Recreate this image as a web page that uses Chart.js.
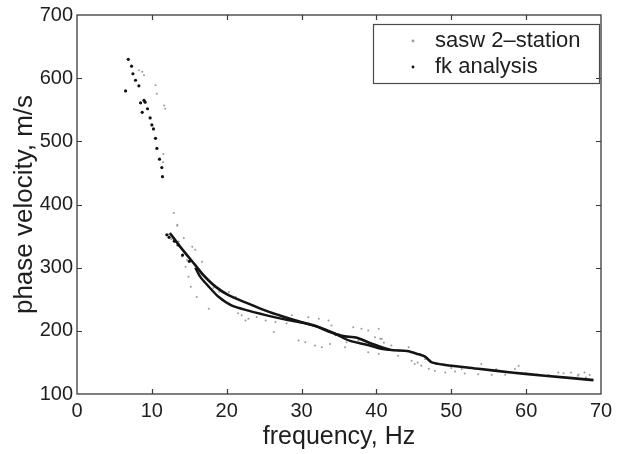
<!DOCTYPE html>
<html>
<head>
<meta charset="utf-8">
<script src="https://cdn.jsdelivr.net/npm/chart.js@4.4.1/dist/chart.umd.min.js"></script>
<style>
html,body{margin:0;padding:0;background:#ffffff;}
canvas{display:block;}
</style>
</head>
<body>
<canvas id="c" width="623" height="454"></canvas>
<script>
// ---------- data ----------
const xTickValues = [0, 10, 20, 30, 40, 50, 60, 70];
const yTickValues = [100, 200, 300, 400, 500, 600, 700];

// sasw 2-station: scattered grey points
const saswFreq = [8.27, 8.71, 8.95, 10.49, 10.67, 11.64, 11.78, 11.55, 11.5, 12.93, 13.4,
  13.4, 14.27, 14.04, 14.5, 14.9, 15.2, 16.0, 17.6, 15.8, 16.7, 15.4, 13.6, 14.7,
  20.3, 21.2, 22.0, 22.9, 22.5, 25.2, 26.3, 28.7, 30.9, 32.3, 33.6, 34.0, 29.6, 30.5, 31.8, 32.7,
  33.8, 35.8, 36.9, 38.0, 38.9, 40.3, 37.6, 39.8, 40.7, 38.9, 40.3,
  42.0, 42.9, 44.7, 45.1, 46.0, 47.8, 49.2, 50.5, 51.8, 53.6, 55.4, 57.2, 58.5, 59.0, 54.0, 56.3,
  64.3, 66.0, 67.8, 66.9, 44.3, 46.5, 40.5, 51.4,
  19.0, 23.5, 27.0, 31.0, 35.0, 43.0, 48.0, 52.0, 56.0, 60.0, 63.0, 68.0, 24.0, 26.5, 21.5, 18.2, 12.2, 12.6,
  61.5, 65.0, 67.0, 68.5, 50.0, 47.0, 45.5, 41.0, 36.0, 34.5, 28.0, 17.0];
const saswVel = [612.7, 610, 604.7, 588.8, 575.5, 556.8, 551.6, 480, 467, 386.7, 368,
  366.5, 346.8, 317.5, 301.5, 285.6, 269.6, 253.7, 235, 328.3, 309.5, 333, 341.5, 312,
  261.6, 253.7, 224.5, 219, 216.5, 216.5, 198, 224.5, 221.7, 219, 216.5, 208.5, 184.6, 181.9, 176.6, 173.9,
  179.3, 173.9, 205.8, 203.2, 200.5, 203.2, 184.6, 189.8, 187.3, 165.9, 163.3,
  176.6, 160.6, 152.7, 147.4, 144.7, 136.7, 134, 135.6, 132.4, 131.4, 130.3, 130.3, 139.4, 144.7, 147.4, 136.7,
  134, 134, 134, 128.7, 173.9, 155.4, 187.3, 139.4,
  262, 240, 226, 212, 195, 168, 148, 143, 139, 133, 130, 126, 222, 214, 228, 268, 352, 345,
  131, 133, 131, 130, 141, 140, 150, 181, 182, 193, 212, 278];

// fk analysis: dark points
const fkFreq = [6.85, 7.29, 6.49, 7.47, 7.82, 8.27, 8.49, 8.71, 8.95, 9.1, 9.42, 9.77, 10.0, 10.22,
  10.49, 10.67, 11.02, 11.33, 11.42, 12.0, 12.3, 13.0, 13.5, 14.1, 15.0];
const fkVel = [629.8, 619, 579.8, 607, 596.7, 587.8, 561, 546, 565, 562, 551.6, 537, 526, 519.7,
  504.8, 488.8, 471.8, 458.5, 444, 352, 348, 342, 336, 320, 310];

// dense dispersion curves (upper branch and lower branch)
const upperFreq = [12.4, 13.8, 15.8, 16.9, 18.5, 20.3, 22.9, 25.2, 27.4, 29.6, 31.8, 33.6, 35.4,
  37.4, 39.3, 41.8, 44.1, 45.6, 46.5, 47.4, 49.2, 53.6, 58.0, 62.5, 69.0];
const upperVel = [355, 333, 304, 288, 270, 256, 243, 232, 223, 215, 208, 199, 192,
  189, 180, 170, 168, 163, 159, 150, 146, 140, 134, 129, 122];
const lowerFreq = [15.8, 16.5, 17.6, 18.9, 20.7, 22.9, 25.2, 27.4, 30.0, 32.0, 34.0, 36.5, 38.7, 40.5, 41.8];
const lowerVel = [300, 285, 270, 254, 240, 232, 225, 219, 213, 207, 198, 184, 178, 172, 170];

// ---------- helpers ----------
function toPoints(xs, ys) { return xs.map((x, i) => ({ x: x, y: ys[i] })); }
const FONT = "'Liberation Sans', Arial, Helvetica, sans-serif";
const INK = '#1e1e1e';

const framePlugin = {
  id: 'frame',
  afterLayout(chart) {
    const a = chart.chartArea;
    const lg = chart.legend;
    const boxRight = a.right - 2;
    const boxLeft = boxRight - 226;
    const boxTop = a.top + 9;
    const boxBottom = boxTop + 59;
    chart.$legendFrame = { left: boxLeft, top: boxTop, right: boxRight, bottom: boxBottom };
    if (lg) {
      lg.left = boxLeft + 25;
      lg.top = boxTop + 2;
      lg.right = boxRight;
      lg.bottom = boxBottom;
      lg.width = lg.right - lg.left;
      lg.height = lg.bottom - lg.top;
    }
  },
  afterDraw(chart) {
    const ctx = chart.ctx;
    const a = chart.chartArea;
    const xs = chart.scales.x, ys = chart.scales.y;
    ctx.save();
    ctx.strokeStyle = '#3a3a3a';
    ctx.lineWidth = 1.3;
    ctx.strokeRect(a.left, a.top, a.right - a.left, a.bottom - a.top);
    ctx.lineWidth = 1.2;
    ctx.beginPath();
    xTickValues.slice(1, -1).forEach(v => {
      const px = Math.round(xs.getPixelForValue(v)) + 0.5;
      ctx.moveTo(px, a.bottom); ctx.lineTo(px, a.bottom - 5);
      ctx.moveTo(px, a.top); ctx.lineTo(px, a.top + 5);
    });
    yTickValues.slice(1, -1).forEach(v => {
      const py = Math.round(ys.getPixelForValue(v)) + 0.5;
      ctx.moveTo(a.left, py); ctx.lineTo(a.left + 5, py);
      ctx.moveTo(a.right, py); ctx.lineTo(a.right - 5, py);
    });
    ctx.stroke();
    const f = chart.$legendFrame;
    if (f) {
      ctx.strokeStyle = '#4a4a4a';
      ctx.lineWidth = 1.2;
      ctx.strokeRect(f.left + 0.5, f.top + 0.5, f.right - f.left, f.bottom - f.top);
    }
    ctx.restore();
  }
};

Chart.defaults.font.family = FONT;

new Chart(document.getElementById('c'), {
  type: 'scatter',
  data: {
    datasets: [
      {
        label: 'sasw 2\u2013station',
        data: toPoints(saswFreq, saswVel),
        pointRadius: 1.0,
        pointBackgroundColor: '#9a9a9a',
        backgroundColor: '#d0d0d0',
        borderColor: '#d0d0d0',
        pointBorderWidth: 0,
        borderWidth: 0,
        pointStyle: 'circle',
        order: 3
      },
      {
        label: 'fk analysis',
        data: toPoints(fkFreq, fkVel),
        pointRadius: 1.6,
        backgroundColor: '#111111',
        borderColor: '#111111',
        borderWidth: 0,
        pointStyle: 'circle',
        order: 1
      },
      {
        label: 'fk analysis (upper branch)',
        data: toPoints(upperFreq, upperVel),
        showLine: true,
        pointRadius: 0,
        borderColor: '#141414',
        borderWidth: 2.6,
        tension: 0.25,
        order: 2
      },
      {
        label: 'fk analysis (lower branch)',
        data: toPoints(lowerFreq, lowerVel),
        showLine: true,
        pointRadius: 0,
        borderColor: '#141414',
        borderWidth: 2.4,
        tension: 0.25,
        order: 2
      }
    ]
  },
  options: {
    responsive: false,
    animation: false,
    devicePixelRatio: 1,
    layout: { padding: { left: 0, right: 21, top: 15, bottom: 0 } },
    plugins: {
      tooltip: { enabled: false },
      legend: {
        display: true,
        position: 'right',
        align: 'start',
        maxWidth: 1,
        labels: {
          usePointStyle: true,
          pointStyle: 'circle',
          boxWidth: 22,
          boxHeight: 2,
          padding: 4,
          color: INK,
          font: { family: FONT, size: 22 },
          filter: (item) => item.datasetIndex < 2,
          sort: (a, b) => a.datasetIndex - b.datasetIndex
        }
      }
    },
    scales: {
      x: {
        type: 'linear',
        min: 0,
        max: 70,
        afterBuildTicks: (s) => { s.ticks = xTickValues.map(v => ({ value: v })); },
        afterFit: (s) => { s.height = 60; },
        grid: { display: false, drawTicks: false },
        border: { display: false },
        ticks: {
          color: INK,
          font: { family: FONT, size: 20, lineHeight: 1 },
          padding: 7,
          maxRotation: 0,
          autoSkip: false
        },
        title: {
          display: true,
          text: 'frequency, Hz',
          color: INK,
          font: { family: FONT, size: 25, lineHeight: 1.2 },
          padding: { top: 0, bottom: 2 }
        }
      },
      y: {
        type: 'linear',
        min: 100,
        max: 700,
        afterBuildTicks: (s) => { s.ticks = yTickValues.map(v => ({ value: v })); },
        afterFit: (s) => { s.width = 77; },
        grid: { display: false, drawTicks: false },
        border: { display: false },
        ticks: {
          color: INK,
          font: { family: FONT, size: 20, lineHeight: 1 },
          padding: 4,
          autoSkip: false
        },
        title: {
          display: true,
          text: 'phase velocity, m/s',
          color: INK,
          font: { family: FONT, size: 26, lineHeight: 1.2 },
          padding: { top: 9, bottom: 0 }
        }
      }
    }
  },
  plugins: [framePlugin]
});
</script>
</body>
</html>
